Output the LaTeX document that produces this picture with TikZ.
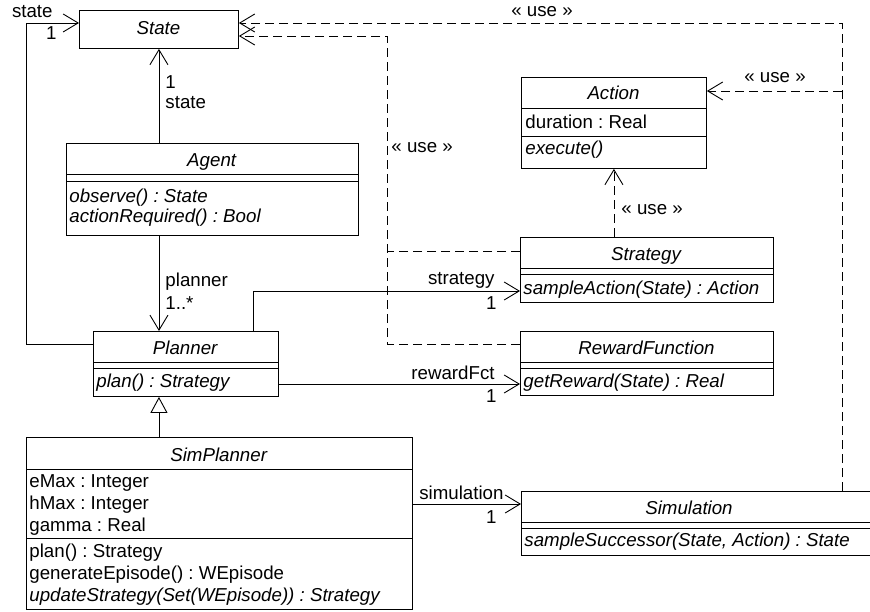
\documentclass[tikz,border=0pt]{standalone}
\usepackage{fontspec}
\setmainfont{Liberation Sans}
\usetikzlibrary{arrows.meta}

\tikzset{
    cls/.style={draw,anchor=north west,inner sep=0pt},
    mem/.style={anchor=west,inner sep=0pt},
    lbl/.style={inner sep=0pt},
    assoc/.style={-{Straight Barb[length=15pt,width=18pt]}},
    usedep/.style={dash pattern=on 9pt off 5pt,-{Straight Barb[length=15pt,width=18pt]}},
    usebranch/.style={dash pattern=on 9pt off 5pt},
    inherit/.style={-{Triangle[open,length=16pt,width=17pt]}}
}

\begin{document}
\frenchspacing
\begin{tikzpicture}[
    x=1pt,y=-1pt,line width=.9pt,
    every node/.style={font=\fontsize{18.7}{22}\selectfont}]
    \useasboundingbox (0,0) rectangle (870,612);

    \node[cls,minimum width=159,minimum height=38] (state) at (79,10) {};
    \node (stateT) at (158.5,28) {\textit{State}};

    \node[cls,minimum width=185,minimum height=91] (action) at (521,77) {};
    \draw (action.west |- 0,108) -- (action.east |- 0,108);
    \draw (action.west |- 0,136) -- (action.east |- 0,136);
    \node (actionT) at (613.5,93) {\textit{Action}};
    \node[mem] (actionA) at (525,122) {duration : Real};
    \node[mem] (actionO) at (525,150) {\textit{execute()}};

    \node[cls,minimum width=292,minimum height=92] (agent) at (66,143) {};
    \draw (agent.west |- 0,174) -- (agent.east |- 0,174);
    \draw (agent.west |- 0,181) -- (agent.east |- 0,181);
    \node (agentT) at (212,162) {\textit{Agent}};
    \node[mem] (agentO1) at (69,198) {\textit{observe() : State}};
    \node[mem] (agentO2) at (69,218) {\textit{actionRequired() : Bool}};

    \node[cls,minimum width=253,minimum height=65] (strategy) at (520,237) {};
    \draw (strategy.west |- 0,268) -- (strategy.east |- 0,268);
    \draw (strategy.west |- 0,274) -- (strategy.east |- 0,274);
    \node (strategyT) at (646.5,256) {\textit{Strategy}};
    \node[mem] (strategyO) at (523,290) {\textit{sampleAction(State) : Action}};

    \node[cls,minimum width=185,minimum height=65] (planner) at (93,331) {};
    \draw (planner.west |- 0,362) -- (planner.east |- 0,362);
    \draw (planner.west |- 0,368) -- (planner.east |- 0,368);
    \node (plannerT) at (185.5,348) {\textit{Planner}};
    \node[mem] (plannerO) at (96,383) {\textit{plan() : Strategy}};

    \node[cls,minimum width=253,minimum height=64] (reward) at (520,331) {};
    \draw (reward.west |- 0,362) -- (reward.east |- 0,362);
    \draw (reward.west |- 0,368) -- (reward.east |- 0,368);
    \node (rewardT) at (646.5,348) {\textit{RewardFunction}};
    \node[mem] (rewardO) at (523,383) {\textit{getReward(State) : Real}};

    \node[cls,minimum width=386,minimum height=172] (simplanner) at (26,437) {};
    \draw (simplanner.west |- 0,469) -- (simplanner.east |- 0,469);
    \draw (simplanner.west |- 0,538) -- (simplanner.east |- 0,538);
    \node (simplannerT) at (219,455) {\textit{SimPlanner}};
    \node[mem] (simA1) at (29,483) {eMax : Integer};
    \node[mem] (simA2) at (29,505) {hMax : Integer};
    \node[mem] (simA3) at (29,527) {gamma : Real};
    \node[mem] (simO1) at (29,553) {plan() : Strategy};
    \node[mem] (simO2) at (29,575) {generateEpisode() : WEpisode};
    \node[mem] (simO3) at (29,597) {\textit{updateStrategy(Set(WEpisode)) : Strategy}};

    \node[cls,minimum width=354,minimum height=64] (simulation) at (521,491) {};
    \draw (simulation.west |- 0,522) -- (simulation.east |- 0,522);
    \draw (simulation.west |- 0,528) -- (simulation.east |- 0,528);
    \node (simulationT) at (689,508) {\textit{Simulation}};
    \node[mem] (simulationO) at (524,542) {\textit{sampleSuccessor(State, Action) : State}};

    \coordinate (stl) at (26,23);
    \draw[assoc] (planner.west |- 0,344) -| (stl) -- (state.west |- stl);
    \node[lbl,anchor=east] (lStState) at (53,12) {state};
    \node[lbl,anchor=east] (lStOne) at (57,33) {1};

    \draw[assoc] (agent.north -| state.south) -- (state.south);
    \node[lbl,anchor=west] (lAgOne) at (165,82) {1};
    \node[lbl,anchor=west] (lAgState) at (165,103) {state};

    \draw[assoc] (agent.south -| state.south) -- (planner.north -| state.south);
    \node[lbl,anchor=west] (lPlName) at (165,282) {planner};
    \node[lbl,anchor=west] (lPlMult) at (165,303) {1..*};

    \draw[inherit] (simplanner.north -| state.south) -- (planner.south -| state.south);

    \coordinate (pst) at (253,291);
    \draw[assoc] (planner.north -| pst) |- (strategy.west |- pst);
    \node[lbl,anchor=east] (lSgName) at (495,280) {strategy};
    \node[lbl,anchor=east] (lSgOne) at (497,303) {1};

    \draw[assoc] (planner.east |- 0,384) -- (reward.west |- 0,384);
    \node[lbl,anchor=east] (lRwName) at (495,373) {rewardFct};
    \node[lbl,anchor=east] (lRwOne) at (497,396) {1};

    \draw[assoc] (simplanner.east |- 0,504) -- (simulation.west |- 0,504);
    \node[lbl,anchor=east] (lSmName) at (504,493) {simulation};
    \node[lbl,anchor=east] (lSmOne) at (497,517) {1};

    \coordinate (ujoin) at (387,36);
    \draw[usedep] (reward.west |- 0,344) -| (ujoin) -- (state.east |- ujoin);
    \draw[usebranch] (strategy.west |- 0,251) -- (ujoin |- 0,251);
    \node[lbl,anchor=west] (lUse1) at (391,148) {« use »};

    \draw[usedep] (strategy.north -| action.south) -- (action.south);
    \node[lbl,anchor=west] (lUse2) at (621,210) {« use »};

    \coordinate (usim) at (842,23);
    \draw[usedep] (simulation.north -| usim) |- (state.east |- usim);
    \node[lbl] (lUse3) at (542,12) {« use »};

    \draw[usedep] (usim |- 0,91) -- (action.east |- 0,91);
    \node[lbl] (lUse4) at (775,78) {« use »};
\end{tikzpicture}
\end{document}
